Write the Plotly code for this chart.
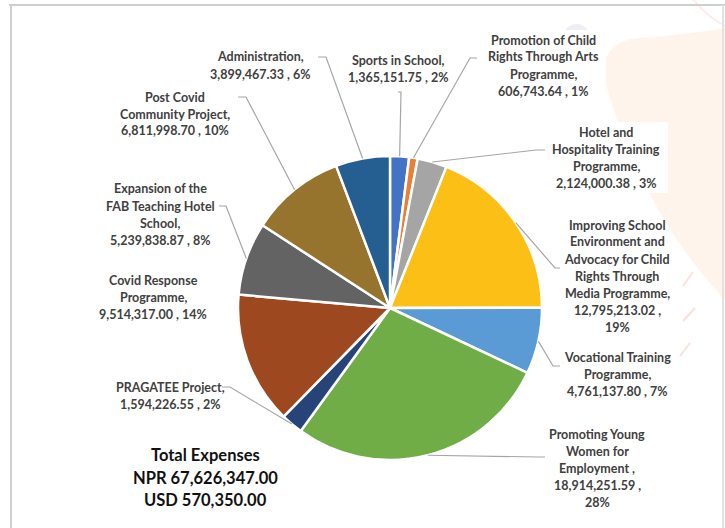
import math
import plotly.graph_objects as go

# ---------------- data ----------------
categories = [
    "Sports in School",
    "Promotion of Child Rights Through Arts Programme",
    "Hotel and Hospitality Training Programme",
    "Improving School Environment and Advocacy for Child Rights Through Media Programme",
    "Vocational Training Programme",
    "Promoting Young Women for Employment",
    "PRAGATEE Project",
    "Covid Response Programme",
    "Expansion of the FAB Teaching Hotel School",
    "Post Covid Community Project",
    "Administration",
]
values = [
    1365151.75, 606743.64, 2124000.38, 12795213.02, 4761137.80,
    18914251.59, 1594226.55, 9514317.00, 5239838.87, 6811998.70, 3899467.33,
]
percents = ["2%", "1%", "3%", "19%", "7%", "28%", "2%", "14%", "8%", "10%", "6%"]
label_lines = [
    ["Sports in School,", "1,365,151.75 , 2%"],
    ["Promotion of Child", "Rights Through Arts", "Programme,", "606,743.64 , 1%"],
    ["Hotel and", "Hospitality Training", "Programme,", "2,124,000.38 , 3%"],
    ["Improving School", "Environment and", "Advocacy for Child", "Rights Through",
     "Media Programme,", "12,795,213.02 ,", "19%"],
    ["Vocational Training", "Programme,", "4,761,137.80 , 7%"],
    ["Promoting Young", "Women for", "Employment ,", "18,914,251.59 ,", "28%"],
    ["PRAGATEE Project,", "1,594,226.55 , 2%"],
    ["Covid Response", "Programme,", "9,514,317.00 , 14%"],
    ["Expansion of the", "FAB Teaching Hotel", "School,", "5,239,838.87 , 8%"],
    ["Post Covid", "Community Project,", "6,811,998.70 , 10%"],
    ["Administration,", "3,899,467.33 , 6%"],
]
total_lines = ["Total Expenses", "NPR 67,626,347.00", "USD 570,350.00"]

colors = ["#4472C4", "#ED7D31", "#A5A5A5", "#FBBF16", "#5B9BD5", "#70AD47",
          "#264478", "#9E4820", "#636363", "#96742E", "#255E91"]

# ---------------- layout helpers ----------------
W, H = 725, 528
CX, CY, R = 390, 308, 152


def X(px):
    return px / W


def Y(py):
    return 1 - py / H


# label placement: (center x, first line y, label-side point, elbow point)
label_pos = [
    (398, 60, (398, 92), (401, 92)),
    (543, 40, (477, 58), (470, 58)),
    (606, 132, (545, 150), (536, 150)),
    (617, 225, (560, 268), (555, 268)),
    (617, 357, (560, 366), (553, 366)),
    (597, 434, (545, 457), (540, 457)),
    (170, 387, (222, 387), (230, 387)),
    (153, 280, None, None),
    (160, 189, (219, 206), (226, 206)),
    (175, 97, (238, 97), (246, 97)),
    (260, 57, (318, 57), (326, 57)),
]
LINE_H = 17

fig = go.Figure()
fig.add_trace(go.Pie(
    labels=categories,
    values=values,
    sort=False,
    direction="clockwise",
    rotation=0,
    marker=dict(colors=colors, line=dict(color="white", width=2.5)),
    textinfo="none",
    hovertemplate="%{label}<br>%{value:,.2f}<br>%{percent}<extra></extra>",
    showlegend=False,
    domain=dict(x=[X(CX - R), X(CX + R)], y=[Y(CY + R), Y(CY - R)]),
))

shapes = []
# background decorations
shapes.append(dict(type="path", xref="paper", yref="paper",
                   path=f"M {X(603)},{Y(75)} Q {X(603)},{Y(40)} {X(640)},{Y(38)} "
                        f"Q {X(690)},{Y(34)} {X(725)},{Y(28)} L {X(725)},{Y(300)} "
                        f"Q {X(640)},{Y(210)} {X(603)},{Y(75)} Z",
                   fillcolor="rgba(250,215,185,0.28)", line=dict(width=0), layer="below"))
shapes.append(dict(type="circle", xref="paper", yref="paper",
                   x0=X(673), x1=X(867), y0=Y(37), y1=Y(-157),
                   line=dict(color="rgba(245,200,190,0.4)", width=1.5), layer="below"))
shapes.append(dict(type="circle", xref="paper", yref="paper",
                   x0=X(563), x1=X(590), y0=Y(52), y1=Y(24),
                   fillcolor="rgba(225,228,236,0.6)", line=dict(width=0), layer="below"))
for (a, b) in [((693, 272), (683, 286)), ((695, 308), (683, 321)), ((690, 343), (680, 356))]:
    shapes.append(dict(type="line", xref="paper", yref="paper",
                       x0=X(a[0]), y0=Y(a[1]), x1=X(b[0]), y1=Y(b[1]),
                       line=dict(color="rgba(245,195,185,0.5)", width=2), layer="below"))
# white boxes behind labels that sit on decoration
for (x0, y0, x1, y1) in [(476, 30, 606, 101), (545, 122, 668, 193)]:
    shapes.append(dict(type="rect", xref="paper", yref="paper",
                       x0=X(x0), x1=X(x1), y0=Y(y1), y1=Y(y0),
                       fillcolor="white", line=dict(width=0), layer="below"))
# frame border
shapes.append(dict(type="line", xref="paper", yref="paper", x0=X(9), x1=X(725), y0=Y(5), y1=Y(5),
                   line=dict(color="#CFCFCF", width=2)))
shapes.append(dict(type="line", xref="paper", yref="paper", x0=X(11), x1=X(11), y0=Y(5), y1=Y(528),
                   line=dict(color="#CFCFCF", width=2)))
shapes.append(dict(type="line", xref="paper", yref="paper", x0=X(723), x1=X(723), y0=Y(5), y1=Y(528),
                   line=dict(color="#E2E2E2", width=2)))

# leader lines from slice midpoints (computed from the data)
total = sum(values)
cum = 0.0
for i, v in enumerate(values):
    frac_mid = (cum + v / 2) / total
    cum += v
    lp = label_pos[i]
    if lp[2] is None:
        continue
    th = 2 * math.pi * frac_mid
    sx = CX + R * math.sin(th)
    sy = CY - R * math.cos(th)
    (lx, ly), (ex, ey) = lp[2], lp[3]
    shapes.append(dict(type="path", xref="paper", yref="paper",
                       path=f"M {X(lx)},{Y(ly)} L {X(ex)},{Y(ey)} L {X(sx)},{Y(sy)}",
                       line=dict(color="#A6A6A6", width=1.2)))

annotations = []
for i, lines in enumerate(label_lines):
    cx, y0 = label_pos[i][0], label_pos[i][1]
    for j, t in enumerate(lines):
        annotations.append(dict(
            x=X(cx), y=Y(y0 + j * LINE_H), xref="paper", yref="paper",
            text=t, showarrow=False, xanchor="center", yanchor="middle",
            font=dict(family="Lato", size=12.5, color="#404040", weight="bold"),
        ))
for j, t in enumerate(total_lines):
    annotations.append(dict(
        x=X(205), y=Y(455 + j * 22.5), xref="paper", yref="paper",
        text=t, showarrow=False, xanchor="center", yanchor="middle",
        font=dict(family="Lato", size=16.5, color="#111111", weight="bold"),
    ))

fig.update_layout(
    width=W, height=H,
    margin=dict(l=0, r=0, t=0, b=0),
    paper_bgcolor="white",
    plot_bgcolor="white",
    shapes=shapes,
    annotations=annotations,
)

fig.write_html("out.html", config={"displayModeBar": False},
               post_script="document.body.style.margin='0';document.body.style.overflow='hidden';")
